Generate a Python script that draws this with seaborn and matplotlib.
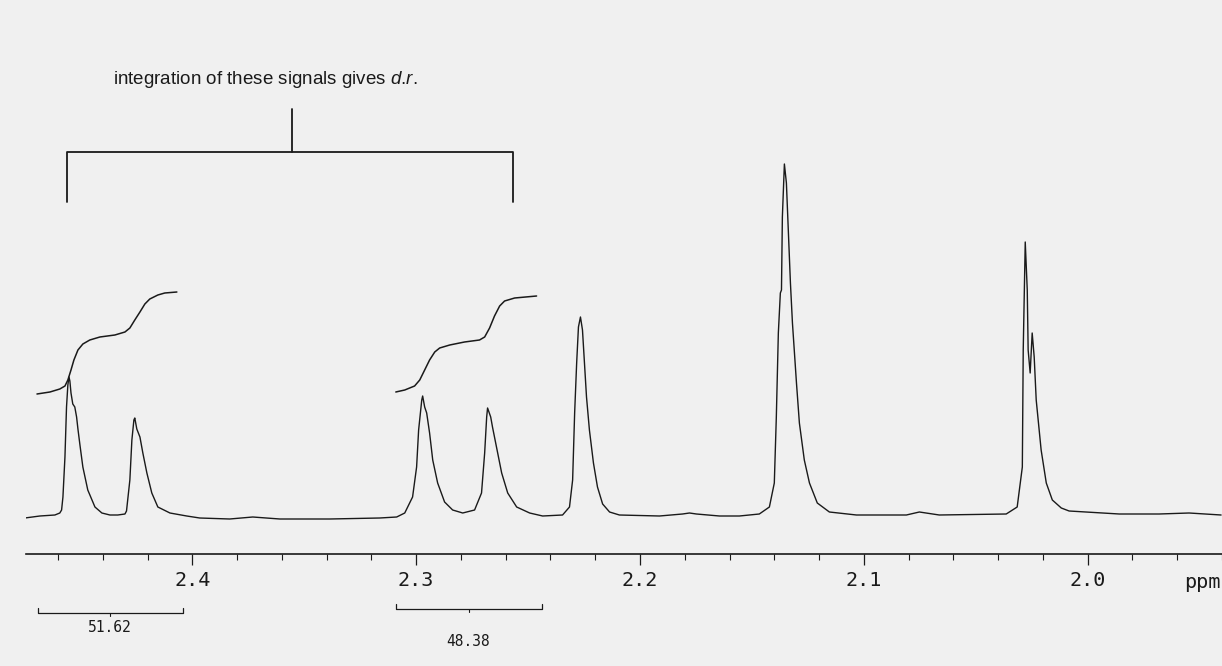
import numpy as np
import pandas as pd
import seaborn as sns
import matplotlib.pyplot as plt

# 1H NMR trace: chemical shift (ppm) vs intensity (arbitrary units)
spectrum_ppm = [2.4748, 2.4681, 2.4614, 2.4592, 2.4584, 2.4578, 2.4569, 2.4562, 2.4556, 2.4551,
                2.4547, 2.4542, 2.4534, 2.4525, 2.4517, 2.4511, 2.4502, 2.4489, 2.4467, 2.4435,
                2.4404, 2.4368, 2.4333, 2.4301, 2.4294, 2.4279, 2.4270, 2.4261, 2.4257, 2.4248,
                2.4234, 2.4221, 2.4203, 2.4181, 2.4154, 2.4100, 2.4025, 2.3967, 2.3833, 2.3730,
                2.3609, 2.3386, 2.3163, 2.3087, 2.3051, 2.3016, 2.2998, 2.2989, 2.2975, 2.2971,
                2.2962, 2.2953, 2.2940, 2.2926, 2.2904, 2.2873, 2.2837, 2.2792, 2.2739, 2.2708,
                2.2694, 2.2685, 2.2681, 2.2667, 2.2659, 2.2641, 2.2618, 2.2591, 2.2551, 2.2493,
                2.2435, 2.2346, 2.2315, 2.2301, 2.2292, 2.2283, 2.2275, 2.2266, 2.2257, 2.2248,
                2.2239, 2.2226, 2.2208, 2.2190, 2.2167, 2.2136, 2.2092, 2.1913, 2.1810, 2.1779,
                2.1748, 2.1645, 2.1556, 2.1467, 2.1422, 2.1400, 2.1391, 2.1382, 2.1373, 2.1368,
                2.1364, 2.1355, 2.1346, 2.1337, 2.1328, 2.1319, 2.1301, 2.1288, 2.1266, 2.1243,
                2.1208, 2.1154, 2.1033, 2.0810, 2.0752, 2.0663, 2.0364, 2.0315, 2.0292, 2.0288,
                2.0279, 2.0270, 2.0266, 2.0257, 2.0248, 2.0239, 2.0230, 2.0208, 2.0185, 2.0158,
                2.0118, 2.0083, 1.9859, 1.9681, 1.9547, 1.9404]
spectrum_int = [-1, 1, 2, 4, 7, 20, 60, 110, 132, 140,
                136, 124, 113, 110, 100, 88, 72, 50, 27, 10,
                4, 2, 2, 3, 6, 37, 77, 97, 99, 88,
                80, 64, 44, 24, 10, 4, 1, -1, -2, 0,
                -2, -2, -1, 0, 4, 20, 50, 87, 117, 121,
                110, 104, 84, 57, 34, 15, 7, 4, 7, 24,
                64, 100, 109, 100, 90, 70, 44, 24, 10, 4,
                1, 2, 10, 37, 104, 154, 190, 200, 187, 154,
                120, 87, 54, 30, 13, 5, 2, 1, 3, 4,
                3, 1, 1, 3, 10, 34, 100, 184, 224, 227,
                300, 353, 334, 284, 234, 194, 134, 94, 57, 34,
                14, 5, 2, 2, 5, 2, 3, 10, 50, 167,
                275, 227, 167, 144, 184, 160, 117, 67, 34, 17,
                9, 6, 3, 3, 4, 2]

# integral traces over the two diastereomer signals
integral1_ppm = [2.4694, 2.4636, 2.4592, 2.4569, 2.4556, 2.4542, 2.4529, 2.4511, 2.4489, 2.4458,
                 2.4413, 2.4346, 2.4301, 2.4279, 2.4257, 2.4234, 2.4212, 2.4190, 2.4154, 2.4123,
                 2.4069]
integral1_val = [123, 125, 128, 131, 137, 147, 157, 167, 173, 177,
                 180, 182, 185, 189, 197, 205, 213, 218, 222, 224,
                 225]
integral2_ppm = [2.3091, 2.3051, 2.3007, 2.2984, 2.2962, 2.2940, 2.2917, 2.2895, 2.2850, 2.2784,
                 2.2717, 2.2694, 2.2672, 2.2650, 2.2627, 2.2605, 2.2560, 2.2462]
integral2_val = [125, 127, 131, 137, 147, 157, 165, 169, 172, 175,
                 177, 180, 189, 201, 211, 216, 219, 221]

# integration ranges and values printed under the axis
integral_ranges = [(2.4690, 2.4043), (2.3092, 2.2440)]
integral_values = ['51.62', '48.38']

major_ticks = [2.4, 2.3, 2.2, 2.1, 2.0]
tick_labels = ['2.4', '2.3', '2.2', '2.1', '2.0']

bg = '#f0f0f0'
ink = '#1a1a1a'

sns.set_theme(style='white')
plt.rcParams['mathtext.fontset'] = 'custom'
plt.rcParams['mathtext.it'] = 'Liberation Sans:italic'
plt.rcParams['mathtext.rm'] = 'Liberation Sans'

fig = plt.figure(figsize=(12.22, 6.66), dpi=100, facecolor=bg)
ax = fig.add_axes([26 / 1222, 112 / 666, 1 - 26 / 1222, 554 / 666])
ax.set_facecolor(bg)

spec = pd.DataFrame({'ppm': spectrum_ppm, 'intensity': spectrum_int})
sns.lineplot(data=spec, x='ppm', y='intensity', ax=ax, color=ink, lw=1.0,
             sort=False, estimator=None)
sns.lineplot(x=integral1_ppm, y=integral1_val, ax=ax, color=ink, lw=1.1,
             sort=False, estimator=None)
sns.lineplot(x=integral2_ppm, y=integral2_val, ax=ax, color=ink, lw=1.1,
             sort=False, estimator=None)

ax.set_xlim(2.4743, 1.9404)
ax.set_ylim(-37, 517)

for s in ['top', 'left', 'right']:
    ax.spines[s].set_visible(False)
ax.spines['bottom'].set_color(ink)
ax.spines['bottom'].set_linewidth(1.2)

ax.set_xticks(major_ticks)
ax.set_xticklabels(tick_labels, fontfamily='DejaVu Sans Mono', fontsize=14.5, color=ink)
ax.set_xticks(np.arange(1.94, 2.48, 0.02), minor=True)
ax.tick_params(axis='x', which='major', direction='out', length=8, width=0.9,
               color=ink, pad=4, bottom=True)
ax.tick_params(axis='x', which='minor', direction='out', length=4.5, width=0.8,
               color=ink, bottom=True)
ax.set_yticks([])
ax.set_xlabel('')
ax.set_ylabel('')

ax.text(1.9489, -65, 'ppm', fontfamily='DejaVu Sans Mono', fontsize=14.5, color=ink,
        ha='center', va='center', clip_on=False)

# integration brackets and values below the axis
bracket_y = [-96, -92]
label_y = [-110, -124]
for (a, b), val, by, ly in zip(integral_ranges, integral_values, bracket_y, label_y):
    mid = (a + b) / 2
    ax.plot([a, a, b, b], [by + 5, by, by, by + 5], color=ink, lw=0.9, clip_on=False)
    ax.plot([mid, mid], [by, by - 3], color=ink, lw=0.8, clip_on=False)
    ax.text(mid, ly, val, fontfamily='DejaVu Sans Mono', fontsize=10.5, color=ink,
            ha='center', va='center', clip_on=False)

# annotation bracket over the two signal pairs
ax.plot([2.4560, 2.4560, 2.2569, 2.2569], [315, 365, 365, 315], color=ink, lw=1.3)
ax.plot([2.3556, 2.3556], [365, 408], color=ink, lw=1.3)
ax.text(2.3676, 437, r'integration of these signals gives $d$.$r$.', fontfamily='Liberation Sans',
        fontsize=13.5, color=ink, ha='center', va='center')

fig.savefig('out.png', dpi=100, facecolor=bg)
